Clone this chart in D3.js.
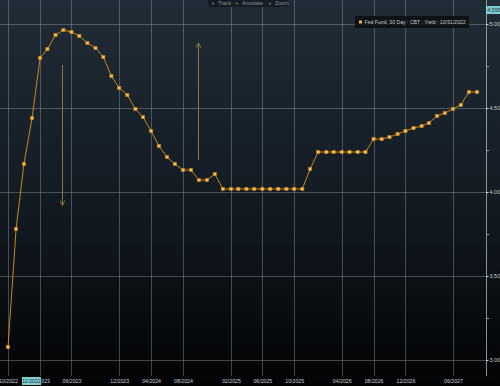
<!DOCTYPE html>
<html>
<head>
<meta charset="utf-8">
<script src="https://cdn.jsdelivr.net/npm/d3@7"></script>
<style>
  html, body { margin: 0; padding: 0; background: #000; }
  svg { display: block; font-family: "Liberation Sans", Arial, sans-serif; }
</style>
</head>
<body>
<svg id="chart" width="500" height="386"></svg>
<script>
// Fed Fund 30 Day futures curve, one point per contract month
const firstMonth = '10/2022';
const yieldValues = [
  3.077, 3.780, 4.167, 4.440, 4.798, 4.851, 4.935, 4.964, 4.952, 4.929,
  4.887, 4.857, 4.804, 4.690, 4.619, 4.577, 4.494, 4.446, 4.363, 4.274,
  4.208, 4.167, 4.131, 4.131, 4.071, 4.071, 4.107, 4.018, 4.018, 4.018,
  4.018, 4.018, 4.018, 4.018, 4.018, 4.018, 4.018, 4.018, 4.137, 4.238,
  4.238, 4.238, 4.238, 4.238, 4.238, 4.238, 4.315, 4.315, 4.327, 4.345,
  4.363, 4.381, 4.393, 4.411, 4.452, 4.470, 4.494, 4.518, 4.595, 4.595
];
const xTickLabels = ['10/2022', '02/2023', '06/2023', '12/2023', '04/2024', '08/2024',
  '02/2025', '06/2025', '10/2025', '04/2026', '08/2026', '12/2026', '06/2027'];
const yTicks = [3.00, 3.50, 4.00, 4.50, 5.00];
const yMinorTicks = [3.25, 3.75, 4.25, 4.75];
const legendText = 'Fed Fund, 30 Day : CBT : Yield : 10/31/2022';
const toolbarItems = ['Track', 'Annotate', 'Zoom'];
const crossDateLabel = '11/2022';
const crossValueLabel = '4.595';
// hand-drawn arrows: month they sit on, start and end value
const arrowMonths = ['05/2023', '10/2024'];
const arrowFrom = [4.756, 4.19];
const arrowTo = [3.92, 4.887];

const W = 500, H = 386;
const axisX = 486, plotBottom = 376;
const parseMonth = d3.timeParse('%m/%Y');
const start = parseMonth(firstMonth);
const data = yieldValues.map((v, i) => ({ date: d3.timeMonth.offset(start, i), value: v }));

const svg = d3.select('#chart');

// background: dark slate fading to black
const defs = svg.append('defs');
const grad = defs.append('linearGradient').attr('id', 'bg').attr('x1', 0).attr('y1', 0).attr('x2', 0).attr('y2', 1);
grad.append('stop').attr('offset', '0%').attr('stop-color', '#202c37');
grad.append('stop').attr('offset', '55%').attr('stop-color', '#121a21');
grad.append('stop').attr('offset', '100%').attr('stop-color', '#020304');
svg.append('rect').attr('width', W).attr('height', H).attr('fill', 'url(#bg)');

const x = d3.scaleTime()
  .domain([start, data[data.length - 1].date])
  .range([8, 477]);
const y = d3.scaleLinear().domain([3, 5]).range([360, 24]);

const grid = svg.append('g').attr('stroke', '#9aa5b0').attr('stroke-opacity', 0.4).attr('stroke-width', 1);
const tickDates = xTickLabels.map(parseMonth);
grid.selectAll('line.v').data(tickDates).join('line')
  .attr('class', 'v')
  .attr('x1', (d) => Math.round(x(d)) + 0.5).attr('x2', (d) => Math.round(x(d)) + 0.5)
  .attr('y1', 0).attr('y2', plotBottom);
grid.selectAll('line.h').data(yTicks).join('line')
  .attr('class', 'h')
  .attr('x1', 0).attr('x2', axisX)
  .attr('y1', (d) => Math.round(y(d)) + 0.5).attr('y2', (d) => Math.round(y(d)) + 0.5);

// right axis
const yAxis = d3.axisRight(y).tickValues(yTicks).tickFormat(d3.format('.2f')).tickSize(2).tickPadding(1);
const yAxisG = svg.append('g').attr('transform', `translate(${axisX + 0.5},0)`).call(yAxis);
yAxisG.select('.domain').remove();
yAxisG.selectAll('line').attr('stroke', '#e0e6ec');
yAxisG.selectAll('text').attr('fill', '#c8ced4').style('font-size', '5.5px');
svg.append('line').attr('x1', axisX + 0.5).attr('x2', axisX + 0.5).attr('y1', 0).attr('y2', plotBottom)
  .attr('stroke', '#c0c8d0').attr('stroke-opacity', 0.7);
svg.append('g').selectAll('line').data(yMinorTicks).join('line')
  .attr('x1', axisX + 1).attr('x2', axisX + 3)
  .attr('y1', (d) => y(d) + 0.5).attr('y2', (d) => y(d) + 0.5)
  .attr('stroke', '#8a939c');

// bottom axis labels
const xAxis = d3.axisBottom(x).tickValues(tickDates).tickFormat(d3.timeFormat('%m/%Y')).tickSize(0).tickPadding(3);
const xAxisG = svg.append('g').attr('transform', `translate(0,${plotBottom})`).call(xAxis);
xAxisG.select('.domain').remove();
xAxisG.selectAll('text').attr('fill', '#c8ced4').style('font-size', '5.2px');

// highlighted crosshair labels
const hx = svg.append('g').attr('transform', 'translate(22,377)');
hx.append('rect').attr('width', 19).attr('height', 8).attr('fill', '#7ecbd0');
hx.append('text').attr('x', 9.5).attr('y', 6).attr('text-anchor', 'middle')
  .attr('fill', '#1a3a40').style('font-size', '5.2px').text(crossDateLabel);
const hy = svg.append('g').attr('transform', 'translate(486,6)');
hy.append('rect').attr('width', 14).attr('height', 8).attr('fill', '#7ecbd0');
hy.append('text').attr('x', 1.5).attr('y', 6)
  .attr('fill', '#1a3a40').style('font-size', '5.2px').text(crossValueLabel);

// annotation arrows
const arrowColor = '#8a7540';
defs.append('marker').attr('id', 'arrowhead')
  .attr('viewBox', '0 0 10 10').attr('refX', 9).attr('refY', 5)
  .attr('markerWidth', 6).attr('markerHeight', 6).attr('orient', 'auto')
  .append('path').attr('d', 'M1,1 L9,5 L1,9').attr('fill', 'none').attr('stroke', arrowColor).attr('stroke-width', 1.6);
svg.append('g').selectAll('line').data(arrowMonths).join('line')
  .attr('x1', (d) => Math.round(x(parseMonth(d))) - 0.5)
  .attr('x2', (d) => Math.round(x(parseMonth(d))) - 0.5)
  .attr('y1', (d, i) => y(arrowFrom[i])).attr('y2', (d, i) => y(arrowTo[i]))
  .attr('stroke', arrowColor).attr('stroke-width', 1)
  .attr('marker-end', 'url(#arrowhead)');

// the curve
const line = d3.line().x((d) => x(d.date)).y((d) => y(d.value));
svg.append('path').datum(data)
  .attr('d', line).attr('fill', 'none')
  .attr('stroke', '#c8861e').attr('stroke-width', 1);
svg.append('g').selectAll('rect').data(data).join('rect')
  .attr('x', (d) => x(d.date) - 1.6).attr('y', (d) => y(d.value) - 1.6)
  .attr('width', 3.2).attr('height', 3.2)
  .attr('fill', '#f2c25a').attr('stroke', '#c87a14').attr('stroke-width', 0.6);

// legend
const lg = svg.append('g').attr('transform', 'translate(355,16)');
lg.append('rect').attr('width', 114).attr('height', 12).attr('fill', '#0b1014').attr('fill-opacity', 0.9);
lg.append('rect').attr('x', 4).attr('y', 4.5).attr('width', 3).attr('height', 3).attr('fill', '#f2b540');
lg.append('text').attr('x', 9.5).attr('y', 8.2).attr('fill', '#c8ced4').style('font-size', '5.4px')
  .attr('textLength', 101).attr('lengthAdjust', 'spacingAndGlyphs').text(legendText);

// toolbar at the top
const tb = svg.append('g').attr('transform', 'translate(208,0)');
tb.append('rect').attr('width', 80).attr('height', 7).attr('rx', 1).attr('fill', '#151c23');
const itemX = [10, 34, 67];
const iconX = [5, 29, 62];
tb.selectAll('text.item').data(toolbarItems).join('text')
  .attr('class', 'item')
  .attr('x', (d, i) => itemX[i]).attr('y', 5.3)
  .attr('fill', '#8e969e').style('font-size', '5.3px').text((d) => d);
tb.selectAll('circle').data(toolbarItems).join('circle')
  .attr('cx', (d, i) => iconX[i]).attr('cy', 3.5).attr('r', 1)
  .attr('fill', '#6e767e');
</script>
</body>
</html>
